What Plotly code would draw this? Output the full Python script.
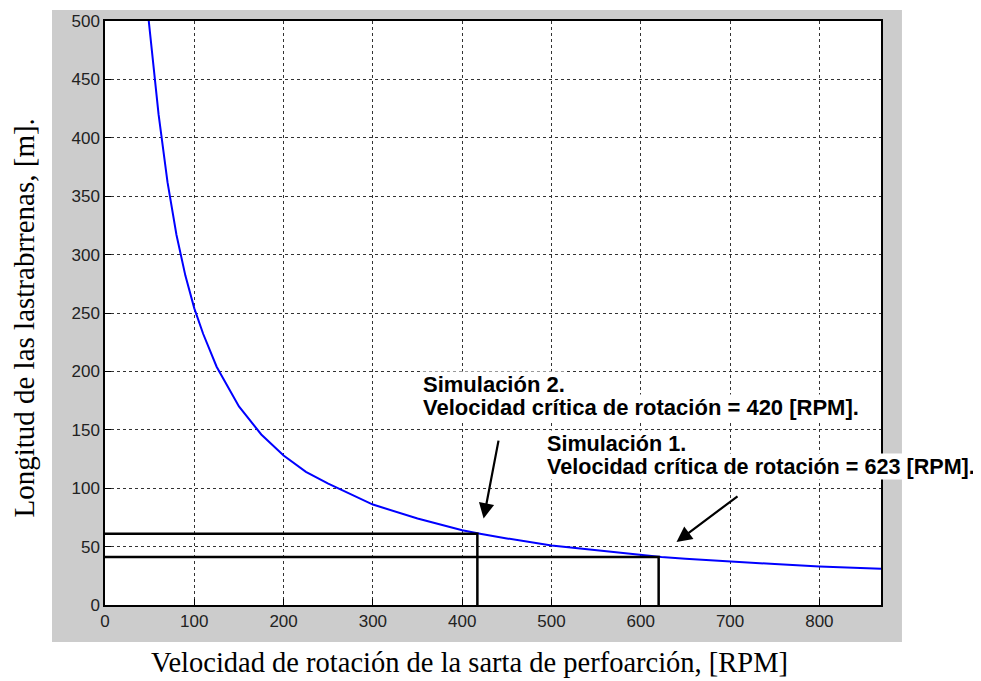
import plotly.graph_objects as go

# Curve: rotation speed [RPM] vs. drill-collar length [m]
rpm = [49, 55, 60, 70, 80, 90, 100, 110, 125, 150, 175, 200, 225, 250, 300, 350,
       400, 420, 450, 500, 550, 600, 623, 650, 700, 750, 800, 869]
length_m = [500, 455, 420, 362, 317, 282, 254, 232, 204, 170, 146, 128, 114, 104, 86, 74,
            64, 61, 57, 51, 47, 43, 41, 39.5, 37, 35, 33, 31]

# Simulation markers (critical speed, length)
sim_names = ["Simulación 1.", "Simulación 2."]
sim_rpm = [620, 417]
sim_len = [41, 61]
sim_label_rpm = [623, 420]

x_ticks = [0, 100, 200, 300, 400, 500, 600, 700, 800]
y_ticks = [0, 50, 100, 150, 200, 250, 300, 350, 400, 450, 500]

fig = go.Figure()

# gray figure background (MATLAB-style) and white axes area
fig.add_shape(type="rect", xref="paper", yref="paper",
              x0=-0.0683, x1=1.027, y0=-0.0634, y1=1.0188,
              fillcolor="#cccccc", line=dict(width=0), layer="below")
fig.add_shape(type="rect", xref="paper", yref="paper",
              x0=0, x1=1, y0=0, y1=1,
              fillcolor="white", line=dict(width=0), layer="below")

fig.add_trace(go.Scatter(x=rpm, y=length_m, mode="lines",
                         line=dict(color="#0000ff", width=2), showlegend=False,
                         hoverinfo="skip"))

for r, l in zip(sim_rpm, sim_len):
    fig.add_trace(go.Scatter(x=[0, r, r], y=[l, l, 0], mode="lines",
                             line=dict(color="black", width=2.5), showlegend=False,
                             hoverinfo="skip"))

font2 = dict(family="Liberation Sans, Arial", size=22, color="black", weight="bold")
font1 = dict(family="Liberation Sans, Arial", size=21.6, color="black", weight="bold")

# Simulación 2 text
fig.add_annotation(x=355, y=189, xref="x", yref="y", text="<b>" + sim_names[1] + "</b>",
                   showarrow=False, xanchor="left", yanchor="middle", font=font2,
                   bgcolor="white", borderpad=0)
fig.add_annotation(x=355, y=169, xref="x", yref="y",
                   text="<b>Velocidad crítica de rotación = %d [RPM].</b>" % sim_label_rpm[1],
                   showarrow=False, xanchor="left", yanchor="middle", font=font2,
                   bgcolor="white", borderpad=0)
# Simulación 1 text
fig.add_annotation(x=494, y=138.5, xref="x", yref="y", text="<b>" + sim_names[0] + "</b>",
                   showarrow=False, xanchor="left", yanchor="middle", font=font1,
                   bgcolor="white", borderpad=0)
fig.add_annotation(x=494, y=118.5, xref="x", yref="y",
                   text="<b>Velocidad crítica de rotación = %d [RPM].</b>" % sim_label_rpm[0],
                   showarrow=False, xanchor="left", yanchor="middle", font=font1,
                   bgcolor="white", borderpad=0)

# arrows
fig.add_annotation(x=424, y=74, ax=441, ay=142, xref="x", yref="y", axref="x", ayref="y",
                   text="", showarrow=True, arrowhead=2, arrowsize=1.4, arrowwidth=2.2,
                   arrowcolor="black")
fig.add_annotation(x=640, y=54, ax=710, ay=94, xref="x", yref="y", axref="x", ayref="y",
                   text="", showarrow=True, arrowhead=2, arrowsize=1.4, arrowwidth=2.2,
                   arrowcolor="black")

# axis titles
fig.add_annotation(x=0.470, y=-0.0993, xref="paper", yref="paper",
                   text="Velocidad de rotación de la sarta de perfoarción, [RPM]",
                   showarrow=False, xanchor="center", yanchor="middle",
                   font=dict(family="Liberation Serif, Times New Roman", size=28.5, color="black"))
fig.add_annotation(x=-0.1045, y=0.492, xref="paper", yref="paper",
                   text="Longitud de las lastrabrrenas, [m].", textangle=-90,
                   showarrow=False, xanchor="center", yanchor="middle",
                   font=dict(family="Liberation Serif, Times New Roman", size=29, color="black"))

tick_font = dict(family="Liberation Sans, Arial", size=17, color="#222222")
axis_common = dict(showline=True, linecolor="black", linewidth=1.5, mirror=True,
                   ticks="inside", ticklen=6, tickcolor="black", tickwidth=1,
                   showgrid=True, gridcolor="#333333", gridwidth=1, griddash="3px,3px",
                   zeroline=False, tickfont=tick_font)

fig.update_xaxes(range=[0, 869], tickvals=x_ticks, ticktext=[str(v) for v in x_ticks],
                 **axis_common)
fig.update_yaxes(range=[0, 500], tickvals=y_ticks, ticktext=[str(v) for v in y_ticks],
                 **axis_common)

fig.update_layout(width=973, height=673, margin=dict(l=97, r=100, t=13, b=76, autoexpand=False),
                  paper_bgcolor="white", plot_bgcolor="white", showlegend=False)

fig.write_html("out.html")
